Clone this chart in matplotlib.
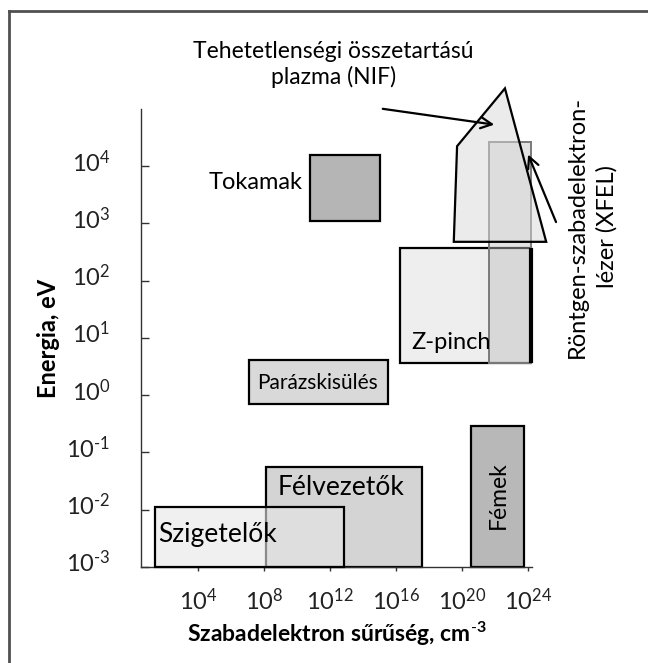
import numpy as np
import matplotlib
matplotlib.use("Agg")
import matplotlib.pyplot as plt
from matplotlib.lines import Line2D
from matplotlib import transforms

plt.rcParams['font.family'] = ['Lato', 'DejaVu Sans']
plt.rcParams['mathtext.fontset'] = 'custom'
plt.rcParams['mathtext.rm'] = 'Lato'
plt.rcParams['mathtext.it'] = 'Lato:italic'
plt.rcParams['mathtext.bf'] = 'Lato:bold'

# plasma / matter regions: log10 of density (cm^-3) and energy (eV)
regions = ['Szigetelők', 'Félvezetők', 'Fémek', 'Parázskisülés', 'Tokamak', 'Z-pinch', 'XFEL']
x_lo = [1.4, 8.1, 20.55, 7.1, 10.8, 16.25, 21.65]
x_hi = [12.85, 17.6, 23.75, 15.5, 15.0, 24.2, 24.2]
y_lo = [-3.0, -3.0, -3.0, -0.15, 3.05, 0.57, 0.57]
y_hi = [-1.95, -1.25, -0.54, 0.62, 4.2, 2.57, 4.42]

# inertial confinement (NIF) polygon
nif_x = [19.5, 19.7, 22.6, 25.1]
nif_y = [2.68, 4.35, 5.36, 2.68]

x_tick_exp = [4, 8, 12, 16, 20, 24]
y_tick_exp = [-3, -2, -1, 0, 1, 2, 3, 4]


def pow_label(e):
    # plain hyphen for negative exponents
    s = str(e).replace('-', r'\text{-}')
    return r'$\mathregular{10^{%s}}$' % s


fig = plt.figure(figsize=(6.48, 6.63), dpi=100)
ax = fig.add_axes([0.2176, 0.1448, 0.6034, 0.6908])
ax.set_xscale('log')
ax.set_yscale('log')
ax.set_xlim(10**0.55, 10**24.24)
ax.set_ylim(1e-3, 1e5)


def box(i, fc, ec='black', lw=1.6, z=2):
    xs = 10.0 ** np.array([x_lo[i], x_hi[i], x_hi[i], x_lo[i]])
    ys = 10.0 ** np.array([y_lo[i], y_lo[i], y_hi[i], y_hi[i]])
    ax.fill(xs, ys, facecolor=fc, edgecolor=ec, linewidth=lw, zorder=z, clip_on=False)


box(1, '#d4d4d4', z=2)                   # Félvezetők
box(0, (0.9, 0.9, 0.9, 0.6), z=3)         # Szigetelők
box(2, '#b8b8b8', z=2)                    # Fémek
box(3, '#d9d9d9', z=2)                    # Parázskisülés
box(4, '#b5b5b5', z=2)                    # Tokamak
box(5, '#eeeeee', z=2)                    # Z-pinch
box(6, (0.75, 0.75, 0.75, 0.45), ec='#7a7a7a', lw=1.4, z=3)  # XFEL
# thick right edge of the Z-pinch box
ax.plot([10**x_hi[5]] * 2, [10**y_lo[5], 10**y_hi[5]], color='black', lw=3, zorder=4,
        solid_capstyle='butt', clip_on=False)

ax.fill(10.0 ** np.array(nif_x), 10.0 ** np.array(nif_y), facecolor=(0.85, 0.85, 0.85, 0.5),
        edgecolor='black', linewidth=1.6, zorder=5, clip_on=False)

# region labels
ax.text(10**1.6, 10**-2.44, 'Szigetelők', fontsize=19, ha='left', va='center', zorder=6)
ax.text(10**8.85, 10**-1.62, 'Félvezetők', fontsize=19, ha='left', va='center', zorder=6)
ax.text(10**22.18, 10**-1.75, 'Fémek', fontsize=16.5, ha='center', va='center', rotation=90, zorder=6)
ax.text(10**11.27, 10**0.22, 'Parázskisülés', fontsize=15, ha='center', va='center', zorder=6)
ax.text(10**10.36, 10**3.71, 'Tokamak', fontsize=17, ha='right', va='center', zorder=6)
ax.text(10**19.33, 10**0.92, 'Z-pinch', fontsize=17, ha='center', va='center', zorder=6)

ax.text(10**12.2, 10**5.78, 'Tehetetlenségi összetartású\nplazma (NIF)', fontsize=16.5,
        ha='center', va='center', linespacing=1.2, clip_on=False)
ax.text(10**27.9, 10**2.94, 'Röntgen-szabadelektron-\nlézer (XFEL)', fontsize=17,
        ha='center', va='center', rotation=90, linespacing=1.45, clip_on=False)

arrow = dict(arrowstyle='->', color='black', lw=1.6, mutation_scale=20)
ax.annotate('', xy=(10**22.12, 10**4.72), xytext=(10**15.03, 10**5.01),
            arrowprops=arrow, annotation_clip=False, zorder=7)
ax.annotate('', xy=(10**23.94, 10**4.25), xytext=(10**25.76, 10**2.98),
            arrowprops=arrow, annotation_clip=False, zorder=7)

# axes styling
for side in ['top', 'right']:
    ax.spines[side].set_visible(False)
for side in ['left', 'bottom']:
    ax.spines[side].set_linewidth(1.0)
    ax.spines[side].set_color('#333333')

ax.set_xticks([10.0**e for e in x_tick_exp])
ax.set_xticklabels([pow_label(e) for e in x_tick_exp])
ax.set_yticks([10.0**e for e in y_tick_exp])
ax.set_yticklabels([pow_label(e) for e in y_tick_exp])
ax.minorticks_off()
ax.tick_params(axis='y', direction='in', length=6, width=1, pad=22, labelsize=17, colors='#333333',
               labelcolor='#222222')
ax.tick_params(axis='x', direction='out', length=3, width=1, pad=12, labelsize=17, colors='#333333',
               labelcolor='#222222')
shift = transforms.ScaledTranslation(0, 6 / 100, fig.dpi_scale_trans)
for lab in ax.get_yticklabels():
    lab.set_transform(lab.get_transform() + shift)

ax.set_xlabel(r'Szabadelektron sűrűség, cm$^{\mathbf{\text{-}3}}$', fontsize=16.5, fontweight='bold',
              labelpad=4)
ax.set_ylabel('Energia, eV', fontsize=17, fontweight='bold', labelpad=4)

# frame lines along the top and left of the figure
fig.add_artist(Line2D([9 / 648, 1], [1 - 11 / 663] * 2, transform=fig.transFigure, color='#505050', lw=2))
fig.add_artist(Line2D([9 / 648] * 2, [0, 1 - 11 / 663], transform=fig.transFigure, color='#505050', lw=2))

fig.savefig('out.png', dpi=100)
